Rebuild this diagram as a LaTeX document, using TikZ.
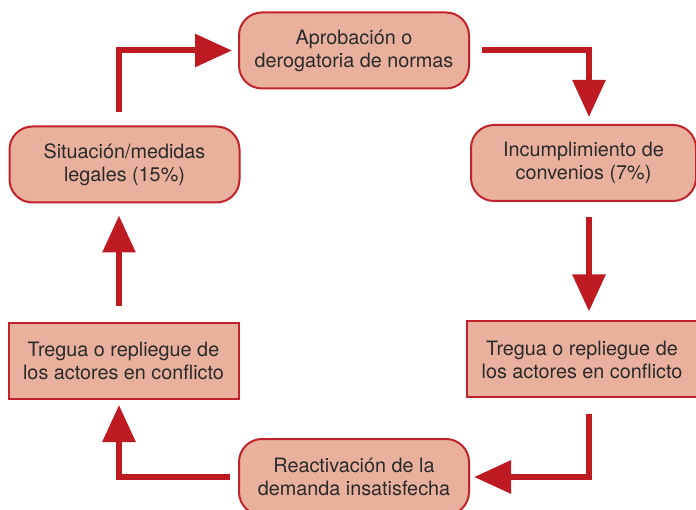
\documentclass[tikz,border=0pt]{standalone}
\usepackage{fontspec}
\setmainfont{TeX Gyre Heros}
\usepackage{tikz}
\usetikzlibrary{arrows.meta,positioning}
\definecolor{conflict}{HTML}{BD1A22}
\definecolor{conflictline}{HTML}{C1232B}
\definecolor{salmon}{HTML}{E9B19D}
\definecolor{inkgray}{HTML}{2A2A2A}

\begin{document}
\begin{tikzpicture}[
  x=1pt,y=-1pt,
  every node/.style={font=\fontsize{19.8}{23}\selectfont,text=inkgray},
  roundbox/.style={rounded corners=23pt,draw=conflictline,line width=2pt,fill=salmon,minimum width=230pt,minimum height=76pt,align=center,inner sep=0pt},
  squarebox/.style={draw=conflictline,line width=2pt,fill=salmon,minimum width=230pt,minimum height=76pt,align=center,inner sep=0pt},
  arrow/.style={-{Triangle[length=37pt,width=32pt]},line width=6pt,draw=conflict}
]
\useasboundingbox (0,0) rectangle (696,510);
\node[roundbox] (norma) at (354,50.5) {Aprobación o\\derogatoria de normas};
\node[roundbox,minimum width=225pt] (incumpl) at (583.5,163) {Incumplimiento de\\convenios (7\%)};
\node[roundbox] (situacion) at (124.5,164.5) {Situación/medidas\\legales (15\%)};
\node[squarebox] (treguaL) at (123.5,361) {Tregua o repliegue de\\los actores en conflicto};
\node[squarebox] (treguaR) at (582,359.5) {Tregua o repliegue de\\los actores en conflicto};
\node[roundbox] (reactiv) at (354,477) {Reactivación de la\\demanda insatisfecha};
\draw[arrow,shorten <=13pt,shorten >=6pt] ([xshift=-5.5pt]situacion.north) |- (norma.west);
\draw[arrow,shorten <=12pt,shorten >=7pt] (norma.east) -| ([xshift=5.5pt]incumpl.north);
\draw[arrow,shorten <=15pt,shorten >=9pt] ([xshift=5.5pt]incumpl.south) -- ([xshift=7pt]treguaR.north);
\draw[arrow,shorten <=15pt,shorten >=4pt] ([xshift=7pt]treguaR.south) |- (reactiv.east);
\draw[arrow,shorten <=8pt,shorten >=5pt] (reactiv.west) -| ([xshift=-4.5pt]treguaL.south);
\draw[arrow,shorten <=16pt,shorten >=12pt] ([xshift=-4.5pt]treguaL.north) -- ([xshift=-5.5pt]situacion.south);
\end{tikzpicture}
\end{document}
